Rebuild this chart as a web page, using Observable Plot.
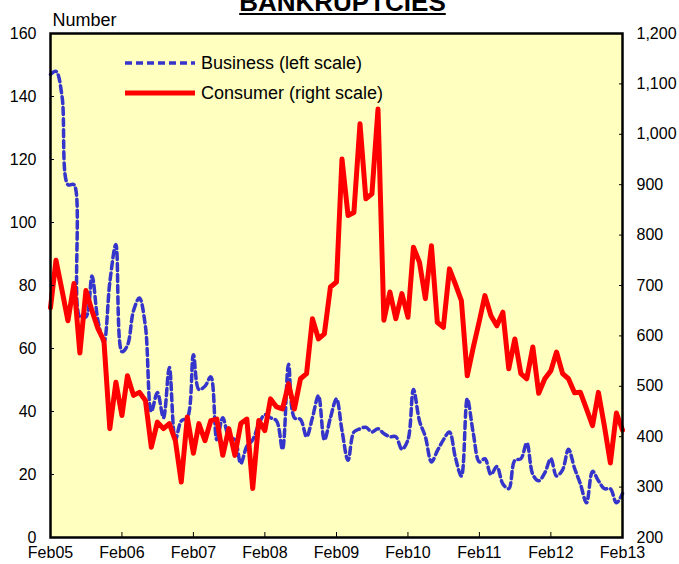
<!DOCTYPE html>
<html><head><meta charset="utf-8">
<script src="https://cdn.jsdelivr.net/npm/d3@7"></script>
<script src="https://cdn.jsdelivr.net/npm/@observablehq/plot@0.6"></script>
<style>
body{margin:0;background:#fff;}
#wrap{position:relative;width:679px;height:564px;overflow:hidden;font-family:"Liberation Sans",Arial,sans-serif;}
#title{position:absolute;left:3px;width:679px;top:-11px;text-align:center;font-weight:bold;font-size:26px;line-height:26px;text-decoration:underline;color:#000;}
#chart{position:absolute;left:0;top:0;}
#legend{position:absolute;left:125px;top:48px;font-size:18px;color:#000;}
#legend .row{display:flex;align-items:center;height:30px;}
#legend svg{margin-right:6px;}
</style></head>
<body><div id="wrap"><div id="chart"></div><div id="title">BANKRUPTCIES</div><div id="legend"></div></div>
<script>
const startMonth = "Feb05";
const business = [
  147,148,140,112,112,70,70,83,69,62,81,
  93,59,61,72,76,67,40,46,38,54,31,37,
  38,58,47,48,51,31,38,32,31,23.5,29,31,
  36,39,38,37,28,55,38,37.5,32,38,45,31,
  38,44,34,24.5,33.5,34.5,35,33.5,34.5,33,32,32,
  28,31,47,37,32,24,27.5,31,33.5,25.5,19.5,44,
  33,24,25,20,22.5,17,15.5,24.5,25,30,20,18,
  20.5,25,19.5,21.5,28,22,17,11,21,18,15.5,15.5,
  11,14
];
const consumer = [
  656,750,690,630,704,566,690,650,615,590,416,
  508,442,521,482,488,472,379,429,416,426,392,310,
  439,367,426,392,432,435,363,416,363,426,435,297,
  432,412,475,459,455,505,455,515,525,634,594,604,
  697,707,951,839,845,1021,872,882,1050,631,687,634,
  684,637,776,746,674,779,627,617,733,703,670,521,
  578,630,680,640,620,647,535,594,525,515,578,486,
  515,531,568,525,515,487,488,455,422,488,420,348,
  447,413
];
const leftTicks = [0,20,40,60,80,100,120,140,160];
const rightTicks = [200,300,400,500,600,700,800,900,1000,1100,1200];
const xTickLabels = ["Feb05","Feb06","Feb07","Feb08","Feb09","Feb10","Feb11","Feb12","Feb13"];
const seriesNames = ["Business (left scale)","Consumer (right scale)"];
const seriesColors = ["#3535cc","#ff0000"];
const bgColor = "#ffffc0";

const parseM = d3.utcParse("%b%y");
const start = parseM(startMonth);
const rightMin = rightTicks[0], rightMax = rightTicks[rightTicks.length-1];
const leftMax = leftTicks[leftTicks.length-1];
const toLeft = v => (v - rightMin) / (rightMax - rightMin) * leftMax;
const fromLeft = y => Math.round(y / leftMax * (rightMax - rightMin) + rightMin);

const busData = business.map((v,i)=>({date:d3.utcMonth.offset(start,i), value:v}));
const conData = consumer.map((v,i)=>({date:d3.utcMonth.offset(start,i), value:v}));
const xTicks = xTickLabels.map(parseM);

const chart = Plot.plot({
  width: 679, height: 564,
  marginTop: 33, marginBottom: 27, marginLeft: 50, marginRight: 57,
  style: {fontFamily: "'Liberation Sans', Arial, sans-serif", fontSize: "16px", background: "transparent", color: "#000", overflow: "visible"},
  x: {type: "utc", domain: [xTicks[0], xTicks[xTicks.length-1]]},
  y: {domain: [0, leftMax]},
  marks: [
    Plot.frame({fill: bgColor, stroke: null}),
    Plot.line(busData, {x: "date", y: "value", stroke: seriesColors[0], strokeWidth: 3.5, strokeDasharray: "7,4", curve: "catmull-rom"}),
    Plot.line(conData, {x: "date", y: d => toLeft(d.value), stroke: seriesColors[1], strokeWidth: 5, strokeLinejoin: "round"}),
    Plot.axisY({anchor: "left", ticks: leftTicks, tickSize: -4, tickPadding: 18, label: null}),
    Plot.axisY({anchor: "right", ticks: rightTicks.map(toLeft), tickFormat: d => d3.format(",")(fromLeft(d)), tickSize: -4, tickPadding: 18, label: null}),
    Plot.axisX({ticks: xTicks, tickFormat: d3.utcFormat("%b%y"), tickSize: -5, tickPadding: 14, label: null}),
    Plot.frame({stroke: "#000", strokeWidth: 2.5}),
    Plot.text(["Number"], {frameAnchor: "top-left", dx: 2, dy: -8, textAnchor: "start", lineAnchor: "bottom", fontSize: 18})
  ]
});
document.getElementById("chart").appendChild(chart);

const legend = document.getElementById("legend");
seriesNames.forEach((name, i) => {
  const row = document.createElement("div");
  row.className = "row";
  const dash = i === 0 ? 'stroke-dasharray="7,4"' : '';
  const sw = i === 0 ? 3.5 : 5;
  row.innerHTML = `<svg width="70" height="10"><line x1="0" x2="70" y1="5" y2="5" stroke="${seriesColors[i]}" stroke-width="${sw}" ${dash} stroke-linecap="${i===0?'butt':'round'}"/></svg><span>${name}</span>`;
  legend.appendChild(row);
});
</script>
</body></html>
